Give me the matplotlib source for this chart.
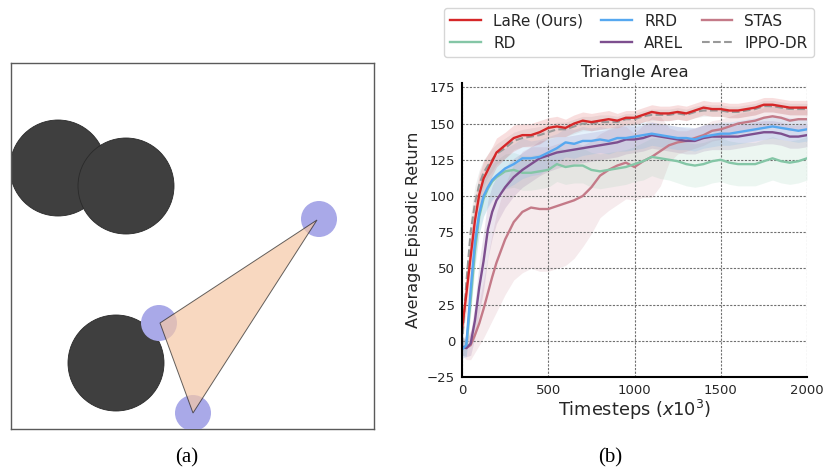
import matplotlib
matplotlib.use('agg')
import matplotlib.pyplot as plt
import numpy as np
from matplotlib.patches import Circle, Polygon

# ---- panel (a): environment snapshot, in pixel units of the box ----
landmarks = [(47, 105), (115, 123), (105, 300)]
landmark_r = 48
agents = [(308, 156), (148, 260), (182, 350)]
agent_r = 18
triangle = [(306, 157), (149, 260), (182, 350)]

# ---- panel (b): learning curves ----
steps = [0, 25, 50, 75, 100, 125, 150, 175, 200, 250, 300, 350, 400, 450, 500, 550, 600, 650, 700, 750,
         800, 850, 900, 950, 1000, 1050, 1100, 1150, 1200, 1250, 1300, 1350, 1400, 1450, 1500, 1550,
         1600, 1650, 1700, 1750, 1800, 1850, 1900, 1950, 2000]

lare = [8, 32, 58, 83, 101, 112, 118, 124, 130, 135, 140, 142, 142, 144, 147, 148, 147, 150, 152, 151,
        152, 153, 152, 154, 154, 156, 158, 157, 157, 158, 157, 159, 161, 160, 160, 159,
        159, 160, 161, 163, 163, 162, 161, 161, 161]
lare_sd = [6, 12, 15, 15, 14, 12, 11, 10, 10, 9, 9, 8, 8, 8, 7, 7, 6, 6, 6, 6,
           6, 6, 5, 5, 5, 5, 5, 5, 5, 5, 5, 5, 5, 5, 5, 5, 5, 5, 5, 5, 5, 5, 5, 5, 5]

ippo = [-3, 40, 75, 95, 108, 116, 121, 125, 129, 133, 138, 140, 141, 142, 144, 146, 146, 148, 150, 150,
        151, 151, 151, 153, 153, 155, 156, 156, 156, 157, 156, 158, 159, 159, 159, 158,
        158, 159, 160, 162, 162, 161, 160, 160, 160]
ippo_sd = [5, 10, 12, 12, 10, 9, 8, 8, 7, 7, 6, 6, 6, 6, 5, 5, 5, 5, 5, 5,
           5, 5, 4, 4, 4, 4, 4, 4, 4, 4, 4, 4, 4, 4, 4, 4, 4, 4, 4, 4, 4, 4, 4, 4, 4]

rrd = [-6, -3, 35, 68, 88, 100, 106, 111, 114, 119, 122, 126, 126, 127, 130, 133, 137, 136, 138, 138,
       139, 138, 140, 140, 141, 142, 143, 142, 141, 140, 140, 139, 141, 142, 143, 143,
       144, 145, 146, 147, 148, 147, 146, 145, 146]
rrd_sd = [6, 8, 15, 15, 14, 14, 14, 14, 14, 14, 14, 14, 12, 12, 11, 10, 10, 10, 10, 9,
          9, 9, 9, 9, 9, 9, 8, 8, 8, 8, 8, 8, 8, 8, 8, 8, 8, 8, 8, 8, 8, 8, 8, 8, 8]

arel = [-4, -5, -2, 14, 37, 55, 77, 89, 97, 106, 113, 118, 122, 126, 128, 130, 131, 132, 133, 134,
        135, 136, 137, 139, 139, 140, 142, 141, 140, 139, 138, 138, 140, 141, 141, 141,
        141, 142, 143, 144, 144, 143, 141, 141, 142]
arel_sd = [6, 6, 8, 12, 18, 20, 20, 18, 16, 14, 13, 12, 12, 12, 11, 11, 10, 10, 10, 10,
           10, 10, 10, 10, 9, 9, 9, 9, 9, 9, 9, 9, 9, 9, 9, 9, 8, 8, 8, 8, 8, 8, 8, 8, 8]

rd = [-5, -4, 28, 62, 86, 98, 105, 110, 113, 117, 118, 116, 116, 117, 118, 122, 120, 121, 121, 118,
      117, 118, 119, 120, 122, 124, 127, 126, 125, 124, 122, 121, 122, 124, 125, 123,
      122, 122, 122, 124, 126, 124, 123, 124, 126]
rd_sd = [5, 6, 10, 12, 12, 12, 12, 12, 12, 12, 12, 12, 12, 12, 12, 12, 12, 12, 12, 12,
         12, 12, 12, 12, 12, 13, 13, 14, 14, 15, 15, 15, 15, 15, 15, 15, 15, 15, 15, 15, 15, 15, 15, 15, 15]

stas = [-4, -5, -3, 4, 12, 22, 33, 44, 54, 70, 82, 89, 92, 91, 91, 93, 95, 97, 100, 106,
        114, 118, 121, 123, 120, 124, 127, 131, 135, 137, 138, 140, 142, 145, 146, 148,
        150, 151, 152, 154, 155, 154, 152, 153, 153]
stas_sd = [6, 8, 10, 12, 15, 20, 25, 30, 34, 38, 40, 42, 42, 43, 43, 43, 43, 40, 35, 32,
           29, 28, 27, 25, 23, 25, 28, 24, 12, 8, 7, 7, 7, 7, 7, 7, 7, 7, 7, 7, 7, 7, 7, 7, 7]

series = [
    ("STAS", stas, stas_sd, "#c47a88", "-"),
    ("RD", rd, rd_sd, "#84c6a6", "-"),
    ("AREL", arel, arel_sd, "#7d4f8f", "-"),
    ("RRD", rrd, rrd_sd, "#56a8f0", "-"),
    ("IPPO-DR", ippo, ippo_sd, "#999999", "--"),
    ("LaRe (Ours)", lare, lare_sd, "#d62728", "-"),
]
legend_order = ["LaRe (Ours)", "RD", "RRD", "AREL", "STAS", "IPPO-DR"]

fig = plt.figure(figsize=(8.25, 4.73), dpi=100)

# panel (a)
axa = fig.add_axes([11 / 825, 1 - 429 / 473, 363 / 825, 366 / 473])
axa.set_xlim(0, 363)
axa.set_ylim(366, 0)
axa.set_xticks([])
axa.set_yticks([])
for s in axa.spines.values():
    s.set_color("#5a5a5a")
    s.set_linewidth(1.0)
for c in landmarks:
    axa.add_patch(Circle(c, landmark_r, facecolor="#3f3f3f", edgecolor="#2a2a2a", lw=0.6, zorder=2))
for c in agents:
    axa.add_patch(Circle(c, agent_r, facecolor="#a9a9e8", edgecolor="none", zorder=3))
axa.add_patch(Polygon(triangle, closed=True, facecolor="#f6c8a6", alpha=0.7,
                      edgecolor="#222222", lw=0.7, zorder=4))

# panel (b)
ax = fig.add_axes([462 / 825, 1 - 377 / 473, 345 / 825, 294 / 473])
x = np.array(steps)
handles = {}
for name, m, sd, col, ls in series:
    m = np.array(m, dtype=float)
    sd = np.array(sd, dtype=float)
    ax.fill_between(x, m - sd, m + sd, color=col, alpha=0.15, lw=0)
    h, = ax.plot(x, m, color=col, ls=ls, lw=1.7 if ls == "-" else 1.5)
    handles[name] = h

ax.set_xlim(0, 2000)
ax.set_ylim(-25, 178)
ax.set_xticks([0, 500, 1000, 1500, 2000])
ax.set_yticks([-25, 0, 25, 50, 75, 100, 125, 150, 175])
ax.grid(True, color="#707070", ls=(0, (2, 1.3)), lw=0.8)
ax.tick_params(length=0, labelsize=9.5, colors="#262626", pad=5)
for side in ["top", "right"]:
    ax.spines[side].set_visible(False)
for side in ["left", "bottom"]:
    ax.spines[side].set_color("black")
    ax.spines[side].set_linewidth(1.5)
ax.set_title("Triangle Area", fontsize=11.8, color="#262626", pad=4)
ax.set_ylabel("Average Episodic Return", fontsize=11.5, color="#262626")
ax.set_xlabel("Timesteps ($x10^3$)", fontsize=12.8, color="#262626", labelpad=1)

fig.legend([handles[n] for n in legend_order], legend_order, ncol=3,
           loc="upper center", bbox_to_anchor=(629 / 825, 1.0), fontsize=11,
           frameon=True, edgecolor="#cccccc", fancybox=True, handlelength=2.0,
           columnspacing=1.2, handletextpad=0.8, borderpad=0.4, labelspacing=0.45,
           labelcolor="#262626")

fig.text(187 / 825, 1 - 458 / 473, "(a)", fontsize=15, family="Liberation Serif", ha="center", va="center")
fig.text(610 / 825, 1 - 458 / 473, "(b)", fontsize=15, family="Liberation Serif", ha="center", va="center")

fig.savefig("out.png", dpi=100)
